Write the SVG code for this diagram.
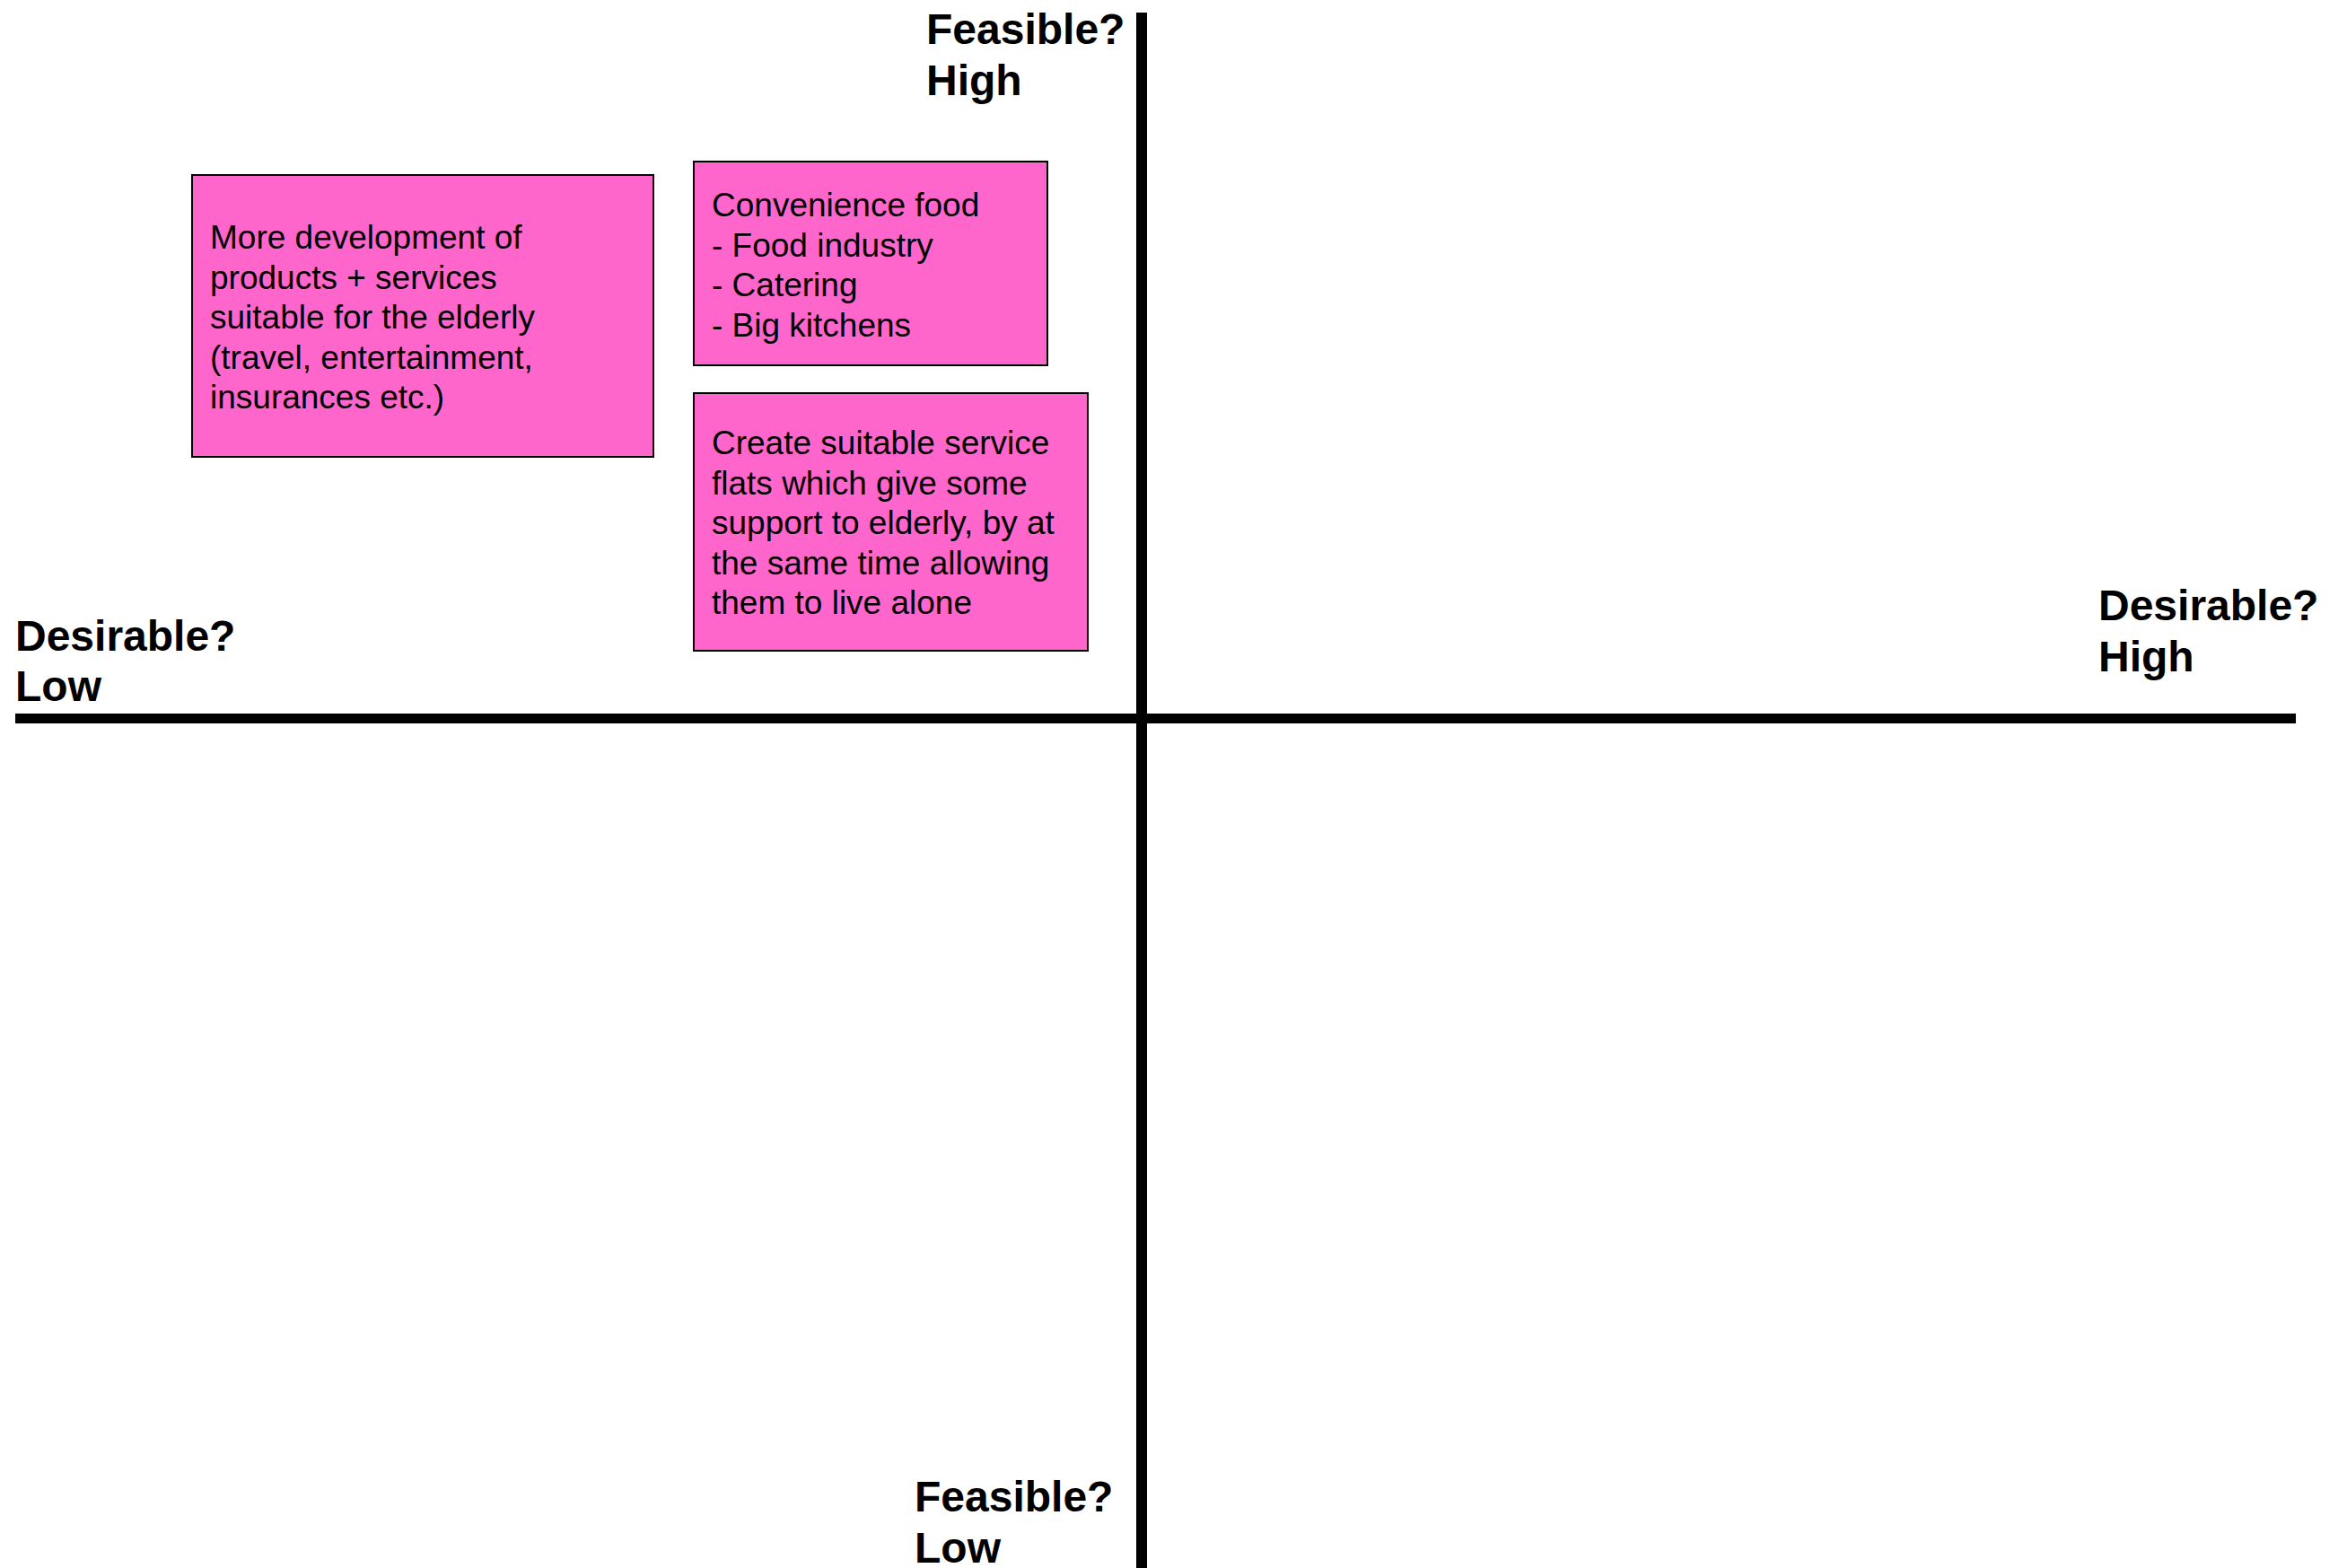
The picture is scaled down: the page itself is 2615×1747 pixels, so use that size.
<svg xmlns="http://www.w3.org/2000/svg" width="2615" height="1747" viewBox="0 0 2615 1747">
<style>
.box{fill:#FF66CC;stroke:#000;stroke-width:2}
.t{font-family:"Liberation Sans",Arial,sans-serif;font-size:37px;fill:#000}
.lbl{font-family:"Liberation Sans",Arial,sans-serif;font-size:48px;font-weight:bold;fill:#000}
.axis{stroke:#000;fill:none}
</style>
<rect width="2615" height="1747" fill="#fff"/>
<g id="axes">
<line class="axis" x1="1272" y1="14" x2="1272" y2="1747" stroke-width="12"/>
<line class="axis" x1="17" y1="800.5" x2="2558" y2="800.5" stroke-width="11"/>
</g>
<g id="label-feasible-high"><text class="lbl" x="1032" y="49">Feasible?<tspan x="1032" y="106">High</tspan></text></g>
<g id="label-feasible-low"><text class="lbl" x="1019" y="1684">Feasible?<tspan x="1019" y="1741">Low</tspan></text></g>
<g id="label-desirable-low"><text class="lbl" x="17" y="725">Desirable?<tspan x="17" y="781">Low</tspan></text></g>
<g id="label-desirable-high"><text class="lbl" x="2338" y="691">Desirable?<tspan x="2338" y="748">High</tspan></text></g>
<g id="node-elderly-products">
<rect class="box" x="214" y="195" width="514" height="314"/>
<text class="t" x="234" y="277">More development of<tspan x="234" y="321.5">products + services</tspan><tspan x="234" y="366">suitable for the elderly</tspan><tspan x="234" y="410.5">(travel, entertainment,</tspan><tspan x="234" y="455">insurances etc.)</tspan></text>
</g>
<g id="node-convenience-food">
<rect class="box" x="773" y="180" width="394" height="227"/>
<text class="t" x="793" y="241">Convenience food<tspan x="793" y="285.5">- Food industry</tspan><tspan x="793" y="330">- Catering</tspan><tspan x="793" y="374.5">- Big kitchens</tspan></text>
</g>
<g id="node-service-flats">
<rect class="box" x="773" y="438" width="439" height="287"/>
<text class="t" x="793" y="506">Create suitable service<tspan x="793" y="550.5">flats which give some</tspan><tspan x="793" y="595">support to elderly, by at</tspan><tspan x="793" y="639.5">the same time allowing</tspan><tspan x="793" y="684">them to live alone</tspan></text>
</g>
<g id="connectors"></g>
</svg>
